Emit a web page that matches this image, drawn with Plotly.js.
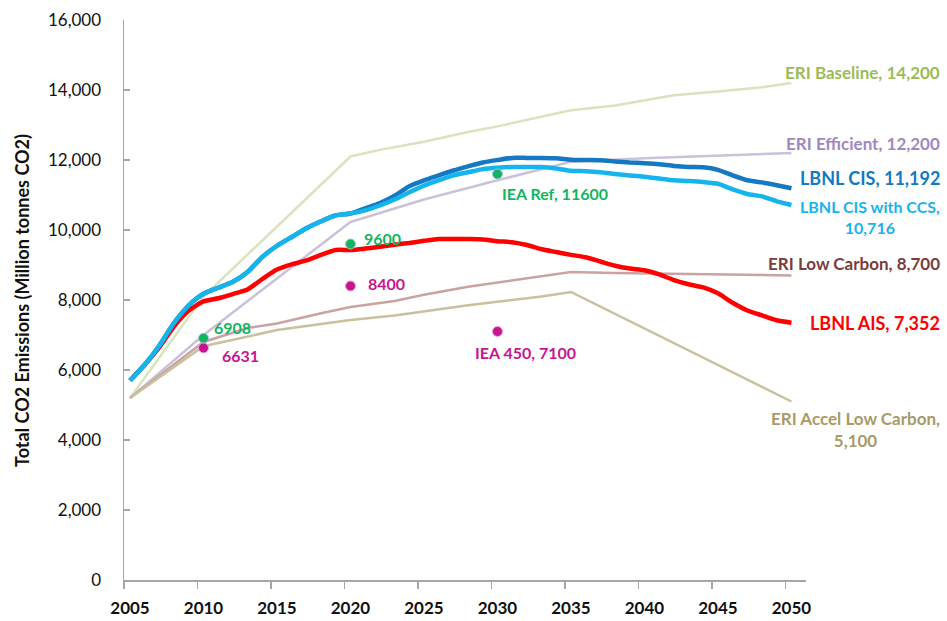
<!DOCTYPE html>
<html>
<head>
<meta charset="utf-8">
<script src="https://cdn.plot.ly/plotly-3.0.1.min.js"></script>
<style>
  html, body { margin: 0; padding: 0; background: #fff; }
  #chart { width: 947px; height: 621px; }
</style>
</head>
<body>
<div id="chart"></div>
<script>
// --- data (million tonnes CO2) ---
const yearsAnnual = [
  2005, 2006, 2007, 2008, 2009, 2010, 2011, 2012, 2013, 2014, 2015, 2016,
  2017, 2018, 2019, 2020, 2021, 2022, 2023, 2024, 2025, 2026, 2027, 2028,
  2029, 2030, 2031, 2032, 2033, 2034, 2035, 2036, 2037, 2038, 2039, 2040,
  2041, 2042, 2043, 2044, 2045, 2046, 2047, 2048, 2049, 2050
];
const lbnlCis = [
  5700, 6150, 6700, 7350, 7850, 8180, 8350, 8520, 8800, 9230, 9550, 9800,
  10050, 10250, 10420, 10470, 10620, 10770, 10980, 11250, 11420, 11560, 11700, 11820,
  11930, 12000, 12060, 12060, 12060, 12050, 12010, 12000, 11990, 11960, 11930, 11910,
  11880, 11830, 11800, 11790, 11720, 11560, 11420, 11360, 11280, 11192
];
const lbnlCisCcs = [
  5700, 6150, 6700, 7350, 7850, 8180, 8350, 8520, 8800, 9230, 9550, 9800,
  10050, 10250, 10420, 10470, 10560, 10700, 10870, 11080, 11270, 11420, 11560, 11650,
  11740, 11780, 11800, 11800, 11800, 11760, 11690, 11680, 11650, 11600, 11560, 11520,
  11470, 11420, 11400, 11370, 11320, 11160, 11030, 10960, 10820, 10716
];
const lbnlAis = [
  5700, 6150, 6650, 7250, 7700, 7960, 8050, 8170, 8300, 8600, 8870, 9020,
  9130, 9290, 9430, 9430, 9470, 9520, 9580, 9630, 9690, 9740, 9740, 9740,
  9730, 9680, 9650, 9570, 9450, 9370, 9290, 9220, 9100, 8980, 8900, 8850,
  8730, 8570, 8450, 8360, 8190, 7920, 7700, 7560, 7420, 7352
];

const baselineYears = [2005, 2010, 2020, 2022, 2025, 2028, 2030, 2032, 2035, 2038, 2040, 2042, 2045, 2048, 2050];
const baselineVals  = [5200, 8100, 12100, 12290, 12520, 12800, 12960, 13150, 13420, 13560, 13700, 13850, 13960, 14080, 14200];

const efficientYears = [2005, 2010, 2020, 2025, 2030, 2035, 2040, 2045, 2050];
const efficientVals  = [5200, 7000, 10230, 10870, 11420, 11950, 12050, 12130, 12200];

const lowCarbonYears = [2005, 2010, 2013, 2015, 2018, 2020, 2023, 2025, 2028, 2030, 2033, 2035, 2038, 2040, 2045, 2048, 2050];
const lowCarbonVals  = [5200, 6800, 7200, 7330, 7620, 7800, 7970, 8150, 8380, 8500, 8700, 8800, 8770, 8760, 8740, 8720, 8700];

const accelYears = [2005, 2010, 2015, 2020, 2023, 2025, 2028, 2030, 2033, 2035, 2050];
const accelVals  = [5200, 6680, 7140, 7430, 7560, 7680, 7850, 7950, 8100, 8230, 5100];

const ieaYears = [2010, 2020, 2030];
const ieaRef   = [6908, 9600, 11600];
const iea450   = [6631, 8400, 7100];

const xTickYears = [2005, 2010, 2015, 2020, 2025, 2030, 2035, 2040, 2045, 2050];

const FONT = 'Lato, "Open Sans", sans-serif';

const C = {
  baseline: '#d7e4bd', baselineTxt: '#9bbb59',
  efficient: '#ccc1da', efficientTxt: '#9f88c0',
  lowCarbon: '#c9a3a1', lowCarbonTxt: '#7b3c3c',
  accel: '#c9c19c', accelTxt: '#a89b68',
  cis: '#1479c2', ccs: '#16b4ec', ais: '#ff0000',
  ieaRef: '#12b55b', iea450: '#c8148f'
};

// Excel puts the category ticks a few px left of the data points
const TICK_OFFSET_YR = 0.41;

const thin = (x, y, color) => ({
  x, y, type: 'scatter', mode: 'lines', hoverinfo: 'skip',
  line: { color, width: 2.5 }
});
const thick = (x, y, color) => ({
  x, y, type: 'scatter', mode: 'lines', hoverinfo: 'skip',
  line: { color, width: 4.5, shape: 'spline', smoothing: 0.6 }
});

const traces = [
  thin(baselineYears, baselineVals, C.baseline),
  thin(efficientYears, efficientVals, C.efficient),
  thin(lowCarbonYears, lowCarbonVals, C.lowCarbon),
  thin(accelYears, accelVals, C.accel),
  thick(yearsAnnual, lbnlAis, C.ais),
  thick(yearsAnnual, lbnlCis, C.cis),
  thick(yearsAnnual, lbnlCisCcs, C.ccs),
  { x: ieaYears, y: ieaRef, type: 'scatter', mode: 'markers',
    marker: { color: C.ieaRef, size: 10, line: { color: '#9fc9e0', width: 1 } } },
  { x: ieaYears, y: iea450, type: 'scatter', mode: 'markers',
    marker: { color: C.iea450, size: 10, line: { color: '#e6a6cf', width: 1 } } }
];

// right-hand series labels (paper x, data y)
const endLabel = (text, y, color, size) => ({
  text, xref: 'paper', yref: 'y', x: 1.1994, y, xanchor: 'right', yanchor: 'middle',
  align: 'center', showarrow: false,
  font: { family: FONT, size, color, weight: 'bold' }
});

const ptLabel = (text, x, y, color, opts) => Object.assign({
  text, x, y, xref: 'x', yref: 'y', showarrow: false, xanchor: 'left', yanchor: 'middle',
  font: { family: FONT, size: 16, color, weight: 'bold' }
}, opts);

const annotations = [
  endLabel('ERI Baseline, 14,200', baselineVals[baselineVals.length - 1] + 290, C.baselineTxt, 17),
  endLabel('ERI Efficient, 12,200', efficientVals[efficientVals.length - 1] + 260, C.efficientTxt, 17),
  endLabel('LBNL CIS, 11,192', lbnlCis[lbnlCis.length - 1] + 290, C.cis, 18),
  endLabel('LBNL CIS with CCS,<br>10,716', lbnlCisCcs[lbnlCisCcs.length - 1] - 340, C.ccs, 16),
  endLabel('ERI Low Carbon, 8,700', lowCarbonVals[lowCarbonVals.length - 1] + 330, C.lowCarbonTxt, 17),
  endLabel('LBNL AIS, 7,352', lbnlAis[lbnlAis.length - 1] - 10, C.ais, 18),
  endLabel('ERI Accel Low Carbon,<br>5,100', accelVals[accelVals.length - 1] - 800, C.accelTxt, 17),

  ptLabel(String(ieaRef[0]), ieaYears[0], ieaRef[0], C.ieaRef, { xshift: 8, yshift: 11 }),
  ptLabel(String(iea450[0]), ieaYears[0], iea450[0], C.iea450, { xshift: 16, yshift: -8 }),
  ptLabel(String(ieaRef[1]), ieaYears[1], ieaRef[1], C.ieaRef, { xshift: 11, yshift: 6 }),
  ptLabel(String(iea450[1]), ieaYears[1], iea450[1], C.iea450, { xshift: 15, yshift: 3 }),
  ptLabel('IEA Ref, ' + ieaRef[2], ieaYears[2], ieaRef[2], C.ieaRef, { xshift: 3, yshift: -19 }),
  ptLabel('IEA 450, ' + iea450[2], ieaYears[2], iea450[2], C.iea450, { xshift: -24, yshift: -21 }),

  // y-axis title, placed by hand like the Excel original
  {
    text: 'Total CO2 Emissions (Million tonnes CO2)',
    xref: 'paper', yref: 'paper', x: -0.1496, y: 0.5,
    xanchor: 'center', yanchor: 'middle', textangle: -90, showarrow: false,
    font: { family: FONT, size: 18, color: '#111', weight: 'bold' }
  }
];

const axisLine = '#a6a6a6';

const layout = {
  width: 947,
  height: 621,
  paper_bgcolor: '#ffffff',
  plot_bgcolor: '#ffffff',
  showlegend: false,
  margin: { l: 124, r: 141, t: 20, b: 41 },
  font: { family: FONT, color: '#111' },
  xaxis: {
    range: [2004.59, 2050.99],
    tickmode: 'array',
    tickvals: xTickYears.map(y => y - TICK_OFFSET_YR),
    ticktext: xTickYears.map(String),
    ticklabelshift: 6,
    showgrid: false, zeroline: false,
    showline: true, linecolor: axisLine, linewidth: 1.5,
    ticks: 'outside', ticklen: 7, tickcolor: axisLine, tickwidth: 1.5,
    ticklabelstandoff: 5,
    tickfont: { family: FONT, size: 17, color: '#111', weight: 'bold' }
  },
  yaxis: {
    range: [0, 16000],
    dtick: 2000,
    tickformat: ',d',
    showgrid: false, zeroline: false,
    showline: true, linecolor: axisLine, linewidth: 1.5,
    ticks: 'inside', ticklen: 6, tickcolor: axisLine, tickwidth: 1.5,
    ticklabelstandoff: 18,
    tickfont: { family: FONT, size: 17, color: '#111' }
  },
  annotations
};

Plotly.newPlot('chart', traces, layout, { staticPlot: true, displayModeBar: false });
</script>
</body>
</html>
